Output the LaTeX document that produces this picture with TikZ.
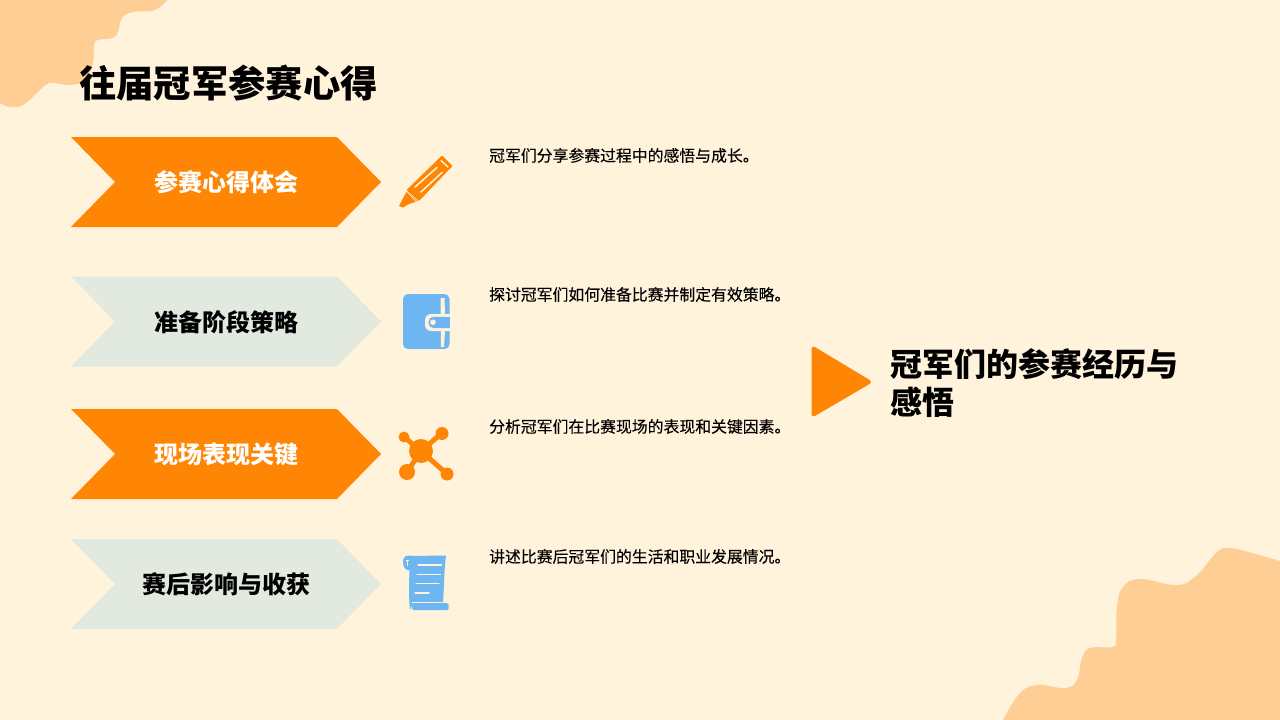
\documentclass[tikz,border=0pt]{standalone}
\usepackage{fontspec}
\newfontfamily\cjk{Noto Sans CJK SC}
\newfontfamily\cjkm[FakeBold=0.1]{Noto Sans CJK SC}
\definecolor{bgc}{HTML}{FFF3DC}
\definecolor{blobc}{HTML}{FFCE94}
\definecolor{orc}{HTML}{FF8604}
\definecolor{palec}{HTML}{E2E9DF}
\definecolor{bluec}{HTML}{6DB6F2}
\tikzset{
  titletext/.style={font=\cjk\bfseries\fontsize{37.3}{42}\selectfont,text=black,anchor=west,inner sep=0pt},
  chevtext/.style={font=\cjk\bfseries\fontsize{24}{28}\selectfont,inner sep=0pt},
  desctext/.style={font=\cjkm\fontsize{15.85}{20}\selectfont,text=black,anchor=west,inner sep=0pt},
  sidetext/.style={font=\cjk\bfseries\fontsize{32}{38}\selectfont,text=black,anchor=west,inner sep=0pt},
  cream/.style={draw=bgc,line cap=round},
}
\newcommand{\chev}[2]{\fill[#2] (71,#1-45) -- (337,#1-45) -- (381,#1) -- (337,#1+45) -- (71,#1+45) -- (115,#1) -- cycle;}
\begin{document}
\begin{tikzpicture}[x=1pt,y=-1pt]
\useasboundingbox (0,0) rectangle (1280,720);
\fill[bgc] (0,0) rectangle (1280,720);
% blobs
\fill[blobc] (0,0) -- (167,0) -- plot[smooth,tension=0.7] coordinates {(167,0) (155,10) (133,12) (122,18) (118,32) (112,38) (98,40) (94,46) (93,63) (85,80) (70,85) (50,83) (38,92) (23,105) (10,107) (0,103)} -- cycle;
\fill[blobc] (1280,720) -- (1280,561) -- plot[smooth,tension=0.7] coordinates {(1280,561) (1252,553) (1230,548) (1217,552) (1197,575) (1177,585) (1140,579) (1123,587) (1117,607) (1116,640) (1112,647) (1090,648) (1082,658) (1077,680) (1065,688) (1038,685) (1020,693) (1003,720)} -- cycle;
% title
\node[titletext] (title) at (79,83) {往届冠军参赛心得};
% chevrons
\chev{182}{orc}
\chev{321.5}{palec}
\chev{454}{orc}
\chev{584}{palec}
\node[chevtext,text=white] (c1) at (226,182) {参赛心得体会};
\node[chevtext,text=black] (c2) at (226,322) {准备阶段策略};
\node[chevtext,text=white] (c3) at (226,454) {现场表现关键};
\node[chevtext,text=black] (c4) at (226,584) {赛后影响与收获};
% descriptions
\node[desctext] (d1) at (489,155.5) {冠军们分享参赛过程中的感悟与成长。};
\node[desctext] (d2) at (489,294.5) {探讨冠军们如何准备比赛并制定有效策略。};
\node[desctext] (d3) at (489,426.5) {分析冠军们在比赛现场的表现和关键因素。};
\node[desctext] (d4) at (489,556.5) {讲述比赛后冠军们的生活和职业发展情况。};
% pencil
\fill[orc,rounded corners=1pt] (442,155.5) -- (452.5,166) -- (419,201) -- (406.5,190) -- cycle;
\fill[orc] (407,191) -- (418,201) -- (409,204) -- (403,207.5) -- (399,206) -- (402,200) -- cycle;
\draw[cream,line width=1.4pt] (441,160.5) -- (448,167);
\draw[cream,line width=1.5pt] (415,187) -- (437,167.5);
\draw[cream,line width=1.5pt] (421,192) -- (442,172.5);
\draw[bgc,line width=0.8pt] (406,190.5) -- (417,202);
% notebook
\fill[bluec,rounded corners=5pt] (403,294) rectangle (449.5,349);
\fill[bgc] (440.5,298) -- (444.5,298) -- (445,314) -- (445,331) -- (444,347) -- (441,347) -- cycle;
\fill[bgc,rounded corners=6pt] (425,314) -- (456,314) -- (456,331) -- (425,331) -- cycle;
\fill[bluec,rounded corners=5pt] (428.5,316.8) -- (456,316.8) -- (456,328) -- (428.5,328) -- cycle;
\fill[bgc] (450,312) rectangle (458,333);
\fill[bgc] (433,322.3) circle (2.8);
% network
\draw[orc,line width=5pt] (404,437) -- (421,451) (442,433) -- (421,451) (407,472) -- (421,451) (447,474) -- (421,451);
\fill[orc] (421,451) circle (12);
\fill[orc] (404,437) circle (5.5);
\fill[orc] (442,433.5) circle (6.5);
\fill[orc] (407,472) circle (8);
\fill[orc] (447,474) circle (6.5);
% scroll
\fill[bluec] (408,556) -- (446,555.5) .. controls (444,570) and (444,590) .. (443,603) -- (413,603) -- (410,610) .. controls (408,590) and (410,575) .. (409,566) -- cycle;
\fill[bluec] (403,562) .. controls (403,555) and (408,555) .. (411,556) -- (411,570) .. controls (406,571) and (403,568) .. (403,562) -- cycle;
\draw[bgc,line width=0.8pt] (407,561) -- (407,566) (405.5,560) -- (409,560);
\fill[bluec,rounded corners=1.5pt] (412,603) rectangle (448.5,610);
\draw[bgc,line width=0.8pt] (412,602) -- (443,602);
\draw[cream,line width=1.5pt] (418,565) -- (441.5,565);
\draw[cream,line width=1.5pt] (417,574.5) -- (440.5,574.5);
\draw[cream,line width=1.5pt] (416,583.5) -- (439,583.5);
\draw[cream,line width=1.5pt] (415,593) -- (429,593);
% triangle
\fill[orc,rounded corners=4pt] (811.5,345) -- (873,382) -- (811.5,418) -- cycle;
\fill[bgc] (811.2,373.5) circle (0.7);
% side text
\node[sidetext] (s1) at (890,364) {冠军们的参赛经历与};
\node[sidetext] (s2) at (890,402) {感悟};
\end{tikzpicture}
\end{document}
